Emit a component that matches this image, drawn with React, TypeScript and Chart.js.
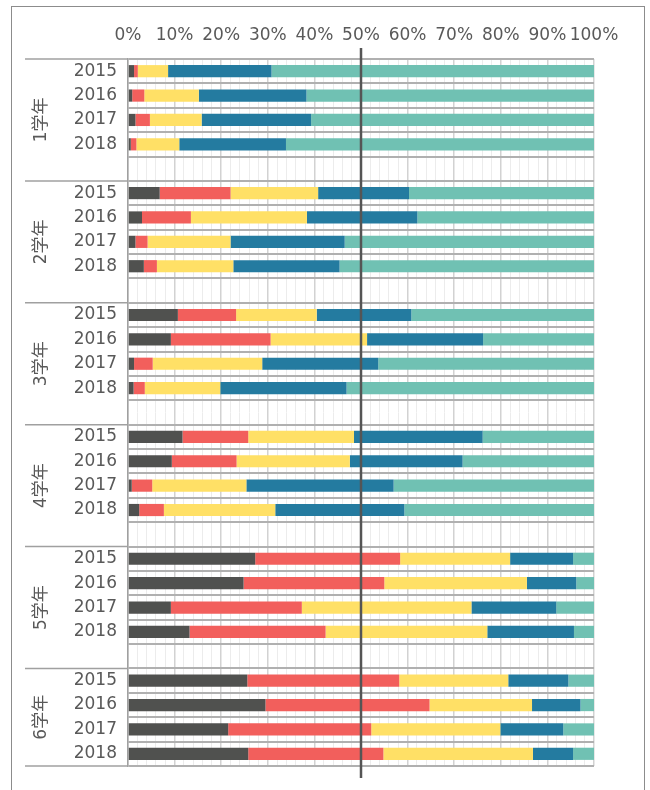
import React, { useEffect, useRef } from 'react';
import { Chart, registerables } from 'chart.js';
Chart.register(...registerables);

const grades = ['1学年', '2学年', '3学年', '4学年', '5学年', '6学年'];
const years = ['2015', '2016', '2017', '2018'];
const tickStep = 2;
const tickLabelEvery = 10;

// values per grade (4 years each), percentages
const seriesA = [1.3, 0.9, 1.6, 0.6, 6.8, 3.0, 1.6, 3.4, 10.7, 9.2, 1.3, 1.2, 11.7, 9.4, 0.8, 2.4, 27.3, 24.8, 9.2, 13.2, 25.6, 29.5, 21.5, 25.8];
const seriesB = [0.8, 2.6, 3.1, 1.2, 15.2, 10.5, 2.6, 2.8, 12.5, 21.4, 4.0, 2.4, 14.1, 13.9, 4.4, 5.3, 31.1, 30.2, 28.1, 29.2, 32.6, 35.2, 30.7, 29.0];
const seriesC = [6.5, 11.7, 11.1, 9.2, 18.8, 24.9, 17.8, 16.4, 17.3, 20.7, 23.5, 16.2, 22.7, 24.3, 20.2, 23.9, 23.6, 30.6, 36.4, 34.7, 23.4, 22.0, 27.7, 32.1];
const seriesD = [22.2, 23.1, 23.5, 22.9, 19.5, 23.7, 24.5, 22.8, 20.3, 24.9, 24.9, 27.1, 27.6, 24.2, 31.6, 27.7, 13.5, 10.6, 18.2, 18.6, 12.9, 10.4, 13.5, 8.6];
const seriesE = [69.2, 61.7, 60.7, 66.1, 39.7, 37.9, 53.5, 54.6, 39.2, 23.8, 46.3, 53.1, 23.9, 28.2, 43.0, 40.7, 4.5, 3.8, 8.1, 4.3, 5.5, 2.9, 6.6, 4.5];

const seriesColors = ['#50514F', '#F25F5C', '#FFE066', '#247BA0', '#70C1B3'];
const seriesNames = ['A', 'B', 'C', 'D', 'E'];
const allSeries = [seriesA, seriesB, seriesC, seriesD, seriesE];

const FONT = "'DejaVu Sans', 'Noto Sans CJK JP', sans-serif";
const TEXT = '#595959';

function buildLabels(): string[] {
  const out: string[] = [];
  grades.forEach((_, gi) => {
    years.forEach((y) => out.push(y));
    if (gi < grades.length - 1) out.push('');
  });
  return out;
}
function pad(vals: number[]): (number | null)[] {
  const out: (number | null)[] = [];
  grades.forEach((_, gi) => {
    years.forEach((_, yi) => out.push(vals[gi * years.length + yi]));
    if (gi < grades.length - 1) out.push(null);
  });
  return out;
}

const overlay = {
  id: 'overlay',
  afterDatasetsDraw(chart: any) {
    const { ctx, chartArea, scales } = chart;
    const x = scales.x;
    const y = scales.y;
    const slot = y.getPixelForValue(1) - y.getPixelForValue(0);
    ctx.save();
    ctx.strokeStyle = '#a0a0a0';
    ctx.lineWidth = 1.5;
    ctx.fillStyle = TEXT;
    ctx.font = `17px ${FONT}`;
    ctx.textAlign = 'center';
    ctx.textBaseline = 'middle';
    grades.forEach((g, gi) => {
      const start = gi * (years.length + 1);
      const top = y.getPixelForValue(start) - slot / 2;
      const bottom = gi === grades.length - 1 ? chartArea.bottom : top + slot * (years.length + 1);
      ctx.beginPath();
      ctx.moveTo(25, top);
      ctx.lineTo(chartArea.left, top);
      ctx.stroke();
      if (gi === grades.length - 1) {
        ctx.beginPath();
        ctx.moveTo(25, bottom);
        ctx.lineTo(chartArea.left, bottom);
        ctx.stroke();
      }
      ctx.save();
      ctx.translate(42, (top + bottom) / 2);
      ctx.rotate(-Math.PI / 2);
      ctx.fillText(g, 0, 0);
      ctx.restore();
    });
    const px = x.getPixelForValue(50);
    ctx.strokeStyle = '#555555';
    ctx.lineWidth = 2.5;
    ctx.beginPath();
    ctx.moveTo(px, chartArea.top - 11);
    ctx.lineTo(px, chartArea.bottom + 12);
    ctx.stroke();
    ctx.restore();
  },
};

export default function App() {
  const ref = useRef<HTMLCanvasElement>(null);
  useEffect(() => {
    if (!ref.current) return;
    const labels = buildLabels();
    const chart = new Chart(ref.current, {
      type: 'bar',
      data: {
        labels,
        datasets: allSeries.map((s, i) => ({
          label: seriesNames[i],
          data: pad(s),
          backgroundColor: seriesColors[i],
          borderWidth: 0,
          barPercentage: 0.5,
          categoryPercentage: 1,
        })),
      },
      options: {
        indexAxis: 'y',
        responsive: false,
        animation: false,
        layout: { padding: { top: 0, right: 56, bottom: 24, left: 0 } },
        plugins: { legend: { display: false }, tooltip: { enabled: false } },
        scales: {
          x: {
            position: 'top',
            stacked: true,
            min: 0,
            max: 100,
            afterFit: (s: any) => { s.height = 59; },
            ticks: {
              stepSize: tickStep,
              autoSkip: false,
              maxRotation: 0,
              minRotation: 0,
              padding: 13,
              color: TEXT,
              font: { family: FONT, size: 17 },
              callback: (v: any) => (Number(v) % tickLabelEvery === 0 ? `${v}%` : ''),
            },
            grid: {
              drawTicks: false,
              color: (c: any) => (c.tick && c.tick.value % tickLabelEvery === 0 ? '#d2d2d2' : '#ececec'),
              lineWidth: (c: any) => (c.tick && c.tick.value % tickLabelEvery === 0 ? 1.5 : 1),
            },
            border: { display: false },
          },
          y: {
            stacked: true,
            afterFit: (s: any) => { s.width = 128; },
            ticks: {
              autoSkip: false,
              padding: 11,
              color: TEXT,
              font: { family: FONT, size: 17 },
            },
            grid: { drawTicks: false, color: '#b0b0b0', lineWidth: 2, offset: true },
            border: { display: true, color: '#a0a0a0', width: 1.5 },
          },
        },
      },
      plugins: [overlay],
    } as any);
    return () => chart.destroy();
  }, []);
  return (
    <div style={{ position: 'absolute', left: 0, top: 0, width: 650, height: 790, overflow: 'hidden' }}>
      <div style={{ position: 'absolute', left: 11, top: 6, width: 634, height: 800, border: '1px solid #8c8c8c', boxSizing: 'border-box' }} />
      <canvas ref={ref} width={650} height={790} style={{ position: 'absolute', left: 0, top: 0 }} />
    </div>
  );
}
